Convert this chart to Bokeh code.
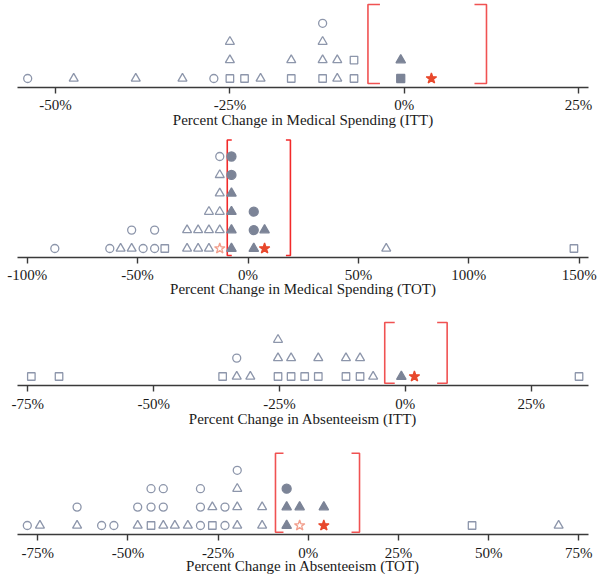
from bokeh.plotting import figure
from bokeh.layouts import column
from bokeh.models import Range1d, FixedTicker, PrintfTickFormatter
from bokeh.embed import file_html
from bokeh.resources import INLINE

# ---------------- DATA ----------------
# Panel 1: Medical Spending (ITT)
p1_open_circle = [-54.0, -27.3, -11.7]
p1_open_triangle = [-47.4, -38.5, -31.8, -25.0, -25.0, -20.6, -16.2, -11.7, -11.7, -9.6, -9.6]
p1_open_square = [-25.0, -22.9, -16.2, -11.7, -7.2, -7.2]
p1_filled_circle = []
p1_filled_triangle = [-0.5]
p1_filled_square = [-0.5]
p1_red_star = [3.9]
p1_open_star = []
p1_ci = [-5.2, 11.8]
p1_ticks = [-50, -25, 0, 25]
p1_title = "Percent Change in Medical Spending (ITT)"

# Panel 2: Medical Spending (TOT)
p2_open_circle = [-87.5, -62.6, -52.7, -47.5, -42.3, -42.3, -12.8]
p2_open_triangle = [-57.7, -52.7, -27.6, -27.6, -22.6, -22.6, -17.7, -17.7, -17.7,
                    -12.8, -12.8, -12.8, -12.8, 62.6]
p2_open_square = [-37.7, 147.6]
p2_filled_circle = [-7.5, -7.5, 2.6, 2.6]
p2_filled_triangle = [-7.5, -7.5, -7.5, -7.5, 2.6, 7.5]
p2_filled_square = []
p2_red_star = [7.5]
p2_open_star = [-12.8]
p2_ci = [-9.4, 19.2]
p2_ticks = [-100, -50, 0, 50, 100, 150]
p2_title = "Percent Change in Medical Spending (TOT)"

# Panel 3: Absenteeism (ITT)
p3_open_circle = [-33.5]
p3_open_triangle = [-33.5, -30.8, -25.3, -25.3, -22.7, -17.3, -11.8, -9.0, -6.4]
p3_open_square = [-74.3, -68.8, -36.3, -25.3, -22.7, -20.0, -17.3, -11.8, -9.0, 34.5]
p3_filled_circle = []
p3_filled_triangle = [-0.8]
p3_filled_square = []
p3_red_star = [1.8]
p3_open_star = []
p3_ci = [-4.1, 8.3]
p3_ticks = [-75, -50, -25, 0, 25]
p3_title = "Percent Change in Absenteeism (ITT)"

# Panel 4: Absenteeism (TOT)
p4_open_circle = [-77.9, -64.1, -57.3, -53.9, -47.3, -43.6, -43.6, -40.2, -40.2,
                  -29.9, -29.9, -29.9, -23.1, -23.1, -19.7]
p4_open_triangle = [-74.4, -64.1, -47.3, -40.2, -37.0, -33.4, -26.6,
                    -19.7, -19.7, -19.7, -12.8, -12.8, 69.4]
p4_open_square = [-43.6, -26.6, 45.4]
p4_filled_circle = [-6.0]
p4_filled_triangle = [-6.0, -6.0, -2.4, 4.3]
p4_filled_square = []
p4_red_star = [4.3]
p4_open_star = [-2.4]
p4_ci = [-9.1, 14.2]
p4_ticks = [-75, -50, -25, 0, 25, 50, 75]
p4_title = "Percent Change in Absenteeism (TOT)"

# ---------------- STYLE ----------------
FONT = "Liberation Serif"
OPEN_COL = "#8d96ab"
FILL_COL = "#7c8497"
STAR_COL = "#e8482c"
OPEN_STAR_COL = "#f2a08e"
FRAME_W = 571
ROW0 = 9.0
ROW_STEP = 18.4

panels = [
    dict(oc=p1_open_circle, ot=p1_open_triangle, osq=p1_open_square, fc=p1_filled_circle,
         ft=p1_filled_triangle, fsq=p1_filled_square, rs=p1_red_star, ost=p1_open_star,
         ci=p1_ci, ticks=p1_ticks, title=p1_title, xr=(-55.46, 26.43),
         frame_h=87, bottom=45, br=(4, 83), arm=12, br_col="#f05252", ls=3, ts=-4),
    dict(oc=p2_open_circle, ot=p2_open_triangle, osq=p2_open_square, fc=p2_filled_circle,
         ft=p2_filled_triangle, fsq=p2_filled_square, rs=p2_red_star, ost=p2_open_star,
         ci=p2_ci, ticks=p2_ticks, title=p2_title, xr=(-104.4, 154.2),
         frame_h=125, bottom=43, br=(2, 117.5), arm=4.5, br_col="#f22a2a", ls=3, ts=-5),
    dict(oc=p3_open_circle, ot=p3_open_triangle, osq=p3_open_square, fc=p3_filled_circle,
         ft=p3_filled_triangle, fsq=p3_filled_square, rs=p3_red_star, ost=p3_open_star,
         ci=p3_ci, ticks=p3_ticks, title=p3_title, xr=(-77.05, 36.38),
         frame_h=85, bottom=43, br=(2.3, 63), arm=10, br_col="#f05252", ls=4, ts=-4),
    dict(oc=p4_open_circle, ot=p4_open_triangle, osq=p4_open_square, fc=p4_filled_circle,
         ft=p4_filled_triangle, fsq=p4_filled_square, rs=p4_red_star, ost=p4_open_star,
         ci=p4_ci, ticks=p4_ticks, title=p4_title, xr=(-80.62, 77.68),
         frame_h=105, bottom=41, br=(2.3, 81.3), arm=8, br_col="#f05252", ls=4, ts=-6),
]

figs = []
for pd_ in panels:
    # stacking order: stars, squares, triangles, circles
    kinds = [
        ("rs", "star", 11, STAR_COL, STAR_COL, 1.0),
        ("ost", "star", 11, None, OPEN_STAR_COL, 0.0),
        ("fsq", "square", 8, FILL_COL, FILL_COL, 1.0),
        ("osq", "square", 7.5, None, OPEN_COL, 0.0),
        ("ft", "triangle", 9.5, FILL_COL, FILL_COL, 1.0),
        ("ot", "triangle", 9, None, OPEN_COL, 0.0),
        ("fc", "circle", 9, FILL_COL, FILL_COL, 1.0),
        ("oc", "circle", 8, None, OPEN_COL, 0.0),
    ]
    counts = {}
    xs0, xs1 = pd_["xr"]
    p = figure(frame_width=FRAME_W, frame_height=pd_["frame_h"],
               x_range=Range1d(xs0, xs1), y_range=Range1d(0, pd_["frame_h"]),
               output_backend="svg", toolbar_location=None,
               min_border_left=17, min_border_right=11, min_border_top=0,
               min_border_bottom=pd_["bottom"])
    # bracket (CI)
    lo, hi = pd_["ci"]
    yb, yt = pd_["br"]
    arm = pd_["arm"] * (xs1 - xs0) / FRAME_W
    p.line([lo + arm, lo, lo, lo + arm], [yt, yt, yb, yb], line_color=pd_["br_col"], line_width=1.6)
    p.line([hi - arm, hi, hi, hi - arm], [yt, yt, yb, yb], line_color=pd_["br_col"], line_width=1.6)

    for key, marker, size, fcol, lcol, falpha in kinds:
        vals = pd_[key]
        if not vals:
            continue
        ys = []
        for v in vals:
            k = round(v, 1)
            r = counts.get(k, 0)
            counts[k] = r + 1
            ys.append(ROW0 + r * ROW_STEP)
        p.scatter(vals, ys, marker=marker, size=size,
                  fill_color=fcol if fcol else "white", fill_alpha=falpha,
                  line_color=lcol, line_width=1.3)

    p.xgrid.visible = False
    p.ygrid.visible = False
    p.yaxis.visible = False
    p.outline_line_color = None
    ax = p.xaxis[0]
    ax.ticker = FixedTicker(ticks=pd_["ticks"])
    ax.formatter = PrintfTickFormatter(format="%d%%")
    ax.axis_line_color = "#3a3a3a"
    ax.axis_line_width = 1.4
    ax.major_tick_line_color = "#3a3a3a"
    ax.major_tick_line_width = 1.4
    ax.major_tick_out = 6
    ax.major_tick_in = 0
    ax.minor_tick_line_color = None
    ax.major_label_text_font = FONT
    ax.major_label_text_font_size = "15px"
    ax.major_label_text_color = "#1a1a1a"
    ax.major_label_standoff = pd_["ls"]
    ax.axis_label = pd_["title"]
    ax.axis_label_text_font = FONT
    ax.axis_label_text_font_size = "15px"
    ax.axis_label_text_font_style = "normal"
    ax.axis_label_text_color = "#1a1a1a"
    ax.axis_label_standoff = pd_["ts"]
    figs.append(p)

layout = column(*figs, spacing=0)
open("out.html", "w").write(file_html(layout, INLINE))
